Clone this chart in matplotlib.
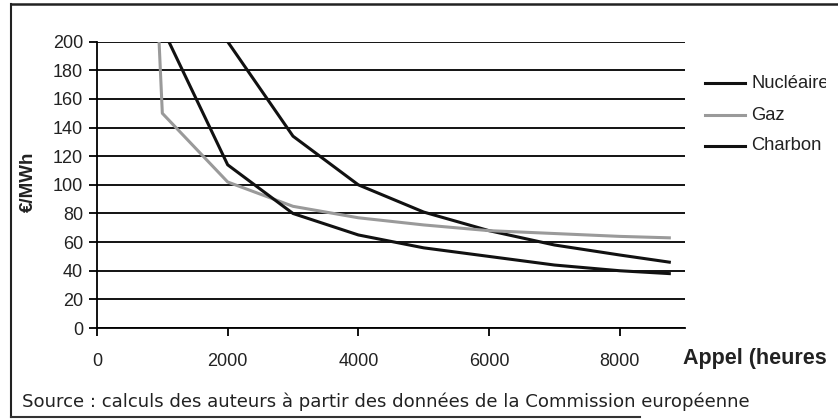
import matplotlib
matplotlib.use("Agg")
import matplotlib.pyplot as plt
from matplotlib.lines import Line2D
from matplotlib.patches import Rectangle

# Data
nuc_x = [2000, 3000, 4000, 5000, 6000, 7000, 8000, 8760]
nuc_y = [200, 134, 100, 81, 68, 58, 51, 46]

gaz_x = [950, 1000, 2000, 3000, 4000, 5000, 6000, 7000, 8000, 8760]
gaz_y = [200, 150, 102, 85, 77, 72, 68, 66, 64, 63]

cha_x = [1100, 2000, 3000, 4000, 5000, 6000, 7000, 8000, 8760]
cha_y = [200, 114, 80, 65, 56, 50, 44, 40, 38]

x_ticks = [0, 2000, 4000, 6000, 8000]
y_ticks = list(range(0, 201, 20))
series_names = ["Nucléaire", "Gaz", "Charbon"]

plt.rcParams["font.family"] = ["Liberation Sans", "DejaVu Sans"]

W, H = 838, 419
fig = plt.figure(figsize=(W / 100, H / 100), dpi=100)
fig.patch.set_facecolor("white")

ax = fig.add_axes([97 / W, 1 - 328 / H, (685 - 97) / W, (328 - 41.7) / H])

# horizontal gridlines
for y in y_ticks:
    ax.axhline(y, color="black", lw=1.3, zorder=1)

ax.plot(nuc_x, nuc_y, color="#111111", lw=2.2, zorder=3, solid_joinstyle="round")
ax.plot(gaz_x, gaz_y, color="#9a9a9a", lw=2.2, zorder=3, solid_joinstyle="round")
ax.plot(cha_x, cha_y, color="#111111", lw=2.2, zorder=3, solid_joinstyle="round")

ax.set_xlim(0, 9000)
ax.set_ylim(0, 200)
ax.set_xticks(x_ticks)
ax.set_yticks(y_ticks)
for s in ["top", "right"]:
    ax.spines[s].set_visible(False)
ax.spines["left"].set_linewidth(1.3)
ax.spines["bottom"].set_linewidth(1.3)
ax.tick_params(axis="both", direction="out", length=6, width=1.3, color="black",
               labelsize=13, labelcolor="#222222")
ax.tick_params(axis="y", pad=4)
ax.tick_params(axis="x", pad=12)

# legend drawn by hand on the right
leg_y = [83, 115, 146]
leg_col = ["#111111", "#9a9a9a", "#111111"]
for name, yy, c in zip(series_names, leg_y, leg_col):
    fig.add_artist(Line2D([705 / W, 745 / W], [1 - yy / H, 1 - yy / H],
                          color=c, lw=2.2))
    fig.text(751 / W, 1 - yy / H, name, fontsize=13.2,
             va="center", ha="left", color="#222222")

# axis titles
fig.text(683 / W, 1 - 358 / H, "Appel (heures)", fontsize=15.5,
         fontweight="bold", va="center", ha="left", color="#222222")
fig.text(28 / W, 1 - 182 / H, "€/MWh", fontsize=13.5,
         fontweight="bold", rotation=90, va="center", ha="center", color="#222222")

# source note
fig.text(22 / W, 1 - 402 / H,
         "Source : calculs des auteurs à partir des données de la Commission européenne",
         fontsize=13.1, family="DejaVu Sans", va="center", ha="left", color="#222222")

# the original is cut off on the right side
fig.add_artist(Rectangle((826 / W, 0), 12 / W, 1 - 8 / H, transform=fig.transFigure,
                         facecolor="white", edgecolor="none", zorder=10))

# outer frame (partly cut off in the original)
fig.add_artist(Line2D([11 / W, 11 / W], [1 - 4 / H, 1 - 417 / H], color="#222222", lw=1.5))
fig.add_artist(Line2D([11 / W, 1.0], [1 - 4 / H, 1 - 4 / H], color="#222222", lw=1.8))
fig.add_artist(Line2D([11 / W, 640 / W], [1 - 417 / H, 1 - 417 / H], color="#333333", lw=1.5))

fig.savefig("out.png", dpi=100)
